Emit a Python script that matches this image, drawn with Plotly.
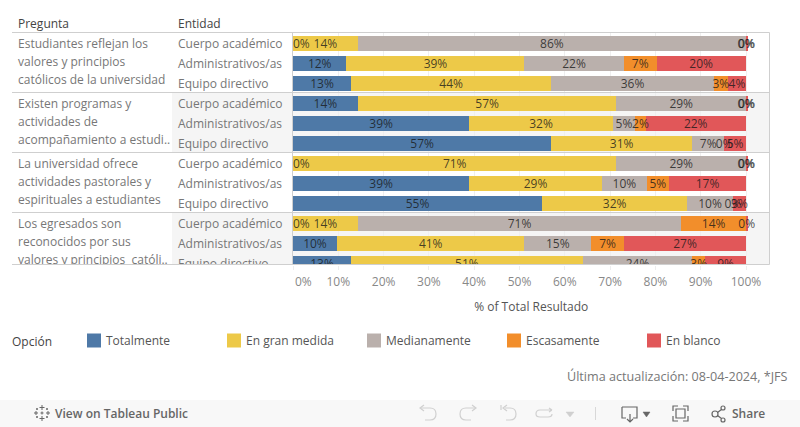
import re
import plotly.graph_objects as go

W, H = 800, 427
FONT = "Open Sans"

pregunta_lines = [
    ["Estudiantes reflejan los", "valores y principios", "católicos de la universidad"],
    ["Existen programas y", "actividades de", "acompañamiento a estudi.."],
    ["La universidad ofrece", "actividades pastorales y", "espirituales a estudiantes"],
    ["Los egresados son", "reconocidos por sus", "valores y principios  católi.."],
]
entidades = ["Cuerpo académico", "Administrativos/as", "Equipo directivo"]
opciones = ["Totalmente", "En gran medida", "Medianamente", "Escasamente", "En blanco"]
colores = ["#4e79a7", "#edc948", "#bab0ac", "#f28e2b", "#e15759"]

totalmente = [0, 11.8, 12.8, 14.3, 38.9, 57.0, 0, 38.9, 55.0, 0, 9.7, 12.8]
gran_medida = [14.3, 39.3, 44.2, 57.1, 31.7, 31.1, 71.4, 29.3, 32.0, 14.3, 41.4, 51.2]
medianamente = [85.7, 21.9, 35.9, 28.6, 4.9, 7.1, 28.6, 9.9, 10.1, 71.4, 14.7, 24.1]
escasamente = [0, 7.3, 3.1, 0, 2.4, 0, 0, 4.9, 0, 14.3, 7.3, 2.9]
en_blanco = [0.3, 19.6, 4.0, 0.3, 22.0, 4.8, 0.3, 17.0, 2.9, 0.3, 26.9, 9.0]
series = [totalmente, gran_medida, medianamente, escasamente, en_blanco]

x_ticks = list(range(0, 101, 10))

def fx(x):
    return x / W

def fy(y):
    return 1 - y / H

def P(d):
    toks = re.findall(r"[MLQCZ]|-?[\d.]+", d)
    out, ix = [], 0
    for t in toks:
        if t in "MLQCZ":
            out.append(t)
            ix = 0
        else:
            v = float(t)
            out.append(f"{fx(v) if ix % 2 == 0 else fy(v):.5f}")
            ix += 1
    return " ".join(out)

PANE_L, PANE_R, PANE_T, PANE_B = 293, 769.5, 33, 264.5
X100 = 746
x_max = (PANE_R - PANE_L) / (X100 - PANE_L) * 100
rows = list(range(12))
y_top = -0.5
y_bot = y_top + (PANE_B - PANE_T) / 20
TXT_DY = 0.09

fig = go.Figure()

for name, vals, col in zip(opciones, series, colores):
    fig.add_trace(go.Bar(x=vals, y=rows, orientation="h", name=name, width=0.75,
                         marker=dict(color=col, line=dict(width=0)), hoverinfo="skip",
                         showlegend=False))

base = [0.0] * 12
for vals in series:
    xs = [b + v / 2 for b, v in zip(base, vals)]
    txt = [f"{round(v)}%" for v in vals]
    pos = ["middle right" if (b == 0 and v < 1) else "middle center" for b, v in zip(base, vals)]
    fig.add_trace(go.Scatter(x=xs, y=[r + TXT_DY for r in rows], mode="text", text=txt, textposition=pos,
                             textfont=dict(family=FONT, size=12, color="rgba(25,25,25,0.8)"),
                             cliponaxis=True, hoverinfo="skip", showlegend=False))
    base = [b + v for b, v in zip(base, vals)]

# Row header columns (x2 is a pixel-scaled axis, clipped by the shared y axis)
ent_t = [entidades[i % 3] for i in rows]
fig.add_trace(go.Scatter(x=[178] * 12, y=[r + TXT_DY for r in rows], xaxis="x2", mode="text", text=ent_t,
                         textposition="middle right",
                         textfont=dict(family=FONT, size=12, color="#777777"),
                         cliponaxis=True, hoverinfo="skip", showlegend=False))
pq_y, pq_t = [], []
for q, lines in enumerate(pregunta_lines):
    for j, line in enumerate(lines):
        pq_y.append(q * 3 + j * 0.9 + TXT_DY)
        pq_t.append(line)
fig.add_trace(go.Scatter(x=[18] * len(pq_t), y=pq_y, xaxis="x2", mode="text", text=pq_t,
                         textposition="middle right",
                         textfont=dict(family=FONT, size=12, color="#777777"),
                         cliponaxis=True, hoverinfo="skip", showlegend=False))

# Colour key
fig.add_trace(go.Scatter(x=list(range(5)), y=[0] * 5, xaxis="x3", yaxis="y3",
                         mode="markers",
                         marker=dict(symbol="square", size=14, color=colores, line=dict(width=0)),
                         cliponaxis=False, hoverinfo="skip", showlegend=False))
fig.add_trace(go.Scatter(x=[i + 12 / 140 for i in range(5)], y=[-1] * 5, xaxis="x3", yaxis="y3",
                         mode="text", text=opciones, textposition="middle right",
                         textfont=dict(family=FONT, size=12, color="#555555"),
                         cliponaxis=False, hoverinfo="skip", showlegend=False))

LINE = "#cfcfcf"
shapes = []
def rect(x0, y0, x1, y1, color, layer="below"):
    shapes.append(dict(type="rect", xref="paper", yref="paper", x0=fx(x0), x1=fx(x1),
                       y0=fy(y0), y1=fy(y1), fillcolor=color, line=dict(width=0), layer=layer))
def hline(x0, x1, y, color=LINE):
    shapes.append(dict(type="line", xref="paper", yref="paper", x0=fx(x0), x1=fx(x1),
                       y0=fy(y), y1=fy(y), line=dict(color=color, width=1), layer="above"))
def vline(x, y0, y1, color=LINE):
    shapes.append(dict(type="line", xref="paper", yref="paper", x0=fx(x), x1=fx(x),
                       y0=fy(y0), y1=fy(y1), line=dict(color=color, width=1), layer="above"))
def icon(d, color, width=1.2, fill=None):
    s = dict(type="path", xref="paper", yref="paper", path=P(d),
             line=dict(color=color, width=width), layer="above")
    if fill:
        s["fillcolor"] = fill
    shapes.append(s)

rect(172, 93, PANE_R, 152.5, "#f5f5f5")
rect(172, 213, PANE_R, PANE_B, "#f5f5f5")
rect(0, 400, W, H, "#f8f8f8")
for y in [32.5, 92.5, 152.5, 212.5, 264.5]:
    hline(12, PANE_R, y)
vline(292.5, 32.5, 264.5)
vline(769.5, 32.5, 264.5)

# Toolbar icons
G1, G2 = "#d0d0d0", "#666666"
icon("M421 408 L430 408 Q436 408 436 414 Q436 420 430 420 L425 420", G1)
icon("M424 405 L420 408 L424 411", G1)
icon("M475 408 L466 408 Q460 408 460 414 Q460 420 466 420 L471 420", G1)
icon("M472 405 L476 408 L472 411", G1)
icon("M505 408 L510 408 Q516 408 516 414 Q516 420 510 420 L506 420", G1)
icon("M501 405 L501 410 M507 405 L503 408 L507 411", G1)
icon("M540 410 L552 410 M552 410 L549 408 M552 410 L549 412 M540 410 Q536 410 536 414 Q536 417 540 417 L548 417 Q552 417 552 414", G1)
icon("M566 412 L574 412 L570 417 Z", G1, 0.5, G1)
vline(595.5, 407, 420, "#d8d8d8")
icon("M622 407 L637 407 L637 418 L633 418 M626 418 L622 418 L622 407", G2)
icon("M630 414 L630 421 M627 419 L630 422 L633 419", G2)
icon("M643 412 L650 412 L646.5 417 Z", G2, 0.5, G2)
icon("M673 411 L673 406 L678 406 M683 406 L688 406 L688 411 M688 416 L688 421 L683 421 M678 421 L673 421 L673 416", G2)
icon("M676 409 L685 409 L685 418 L676 418 Z", G2)
icon("M712 414 Q712 411 715 411 Q718 411 718 414 Q718 417 715 417 Q712 417 712 414", G2)
icon("M721 408 Q721 406 723 406 Q725 406 725 408 Q725 410 723 410 Q721 410 721 408", G2)
icon("M721 420 Q721 418 723 418 Q725 418 725 420 Q725 422 723 422 Q721 422 721 420", G2)
icon("M717.5 412.5 L721.5 409.5 M717.5 415.5 L721.5 418.5", G2)
icon("M42 405 L42 410 M39.5 407.5 L44.5 407.5 M42 416 L42 421 M39.5 418.5 L44.5 418.5 "
     "M36 411 L36 415 M34 413 L38 413 M48 411 L48 415 M46 413 L50 413 "
     "M37 408 L37 410 M36 409 L38 409 M47 408 L47 410 M46 409 L48 409 "
     "M37 416 L37 418 M36 417 L38 417 M47 416 L47 418 M46 417 L48 417 "
     "M42 411.5 L42 414.5 M40.5 413 L43.5 413", G2, 1)

def note(x, y, text, color="#555555", size=12, anchor="left", weight=None):
    f = dict(family=FONT, size=size, color=color)
    if weight:
        f["weight"] = weight
    return dict(xref="paper", yref="paper", x=fx(x), y=fy(y), text=text, showarrow=False,
                xanchor=anchor, yanchor="middle", align=anchor, font=f)

annotations = [
    note(16, 24, "Pregunta", "#444444"),
    note(176, 24, "Entidad", "#444444"),
    note(10, 341, "Opción", "#444444"),
    note(293, 281, "0%", "#888888"),
    note(790, 376.5, "Última actualización: 08-04-2024, *JFS", "#777777", size=12.6, anchor="right"),
    note(53, 413.5, "View on Tableau Public", "#666666", weight=600),
    note(730, 413.5, "Share", "#666666", weight=600),
]

fig.update_layout(
    width=W, height=H, autosize=False,
    margin=dict(l=0, r=0, t=0, b=0),
    paper_bgcolor="white", plot_bgcolor="rgba(0,0,0,0)",
    barmode="stack", bargap=0, showlegend=False,
    shapes=shapes, annotations=annotations,
    font=dict(family=FONT, size=12, color="#555555"),
    xaxis=dict(domain=[fx(PANE_L), fx(PANE_R)], range=[0, x_max], anchor="y",
               tickvals=x_ticks, ticktext=[""] + [f"{t}%" for t in x_ticks[1:]],
               tickfont=dict(family=FONT, size=12, color="#888888"),
               ticks="outside", ticklen=4, tickcolor="#eeeeee",
               ticklabelstandoff=2,
               showgrid=True, gridcolor="#efefef", gridwidth=1, zeroline=False, showline=False,
               title=dict(text="% of Total Resultado", standoff=13,
                          font=dict(family=FONT, size=12, color="#555555"))),
    yaxis=dict(domain=[fy(PANE_B), fy(PANE_T)], range=[y_bot, y_top], anchor="x",
               visible=False, showgrid=False, zeroline=False),
    xaxis2=dict(domain=[0, 1], range=[0, W], anchor="y", visible=False,
                showgrid=False, zeroline=False),
    xaxis3=dict(domain=[0, 1], range=[-94 / 140, (W - 94) / 140], anchor="y3", visible=False,
                showgrid=False, zeroline=False),
    yaxis3=dict(domain=[0, 1], range=[-(H - 340.5), 340.5], anchor="x3", visible=False,
                showgrid=False, zeroline=False),
)

fig.write_html("out.html", config=dict(displayModeBar=False),
               post_script="document.body.style.margin='0';document.body.style.overflow='hidden';")
